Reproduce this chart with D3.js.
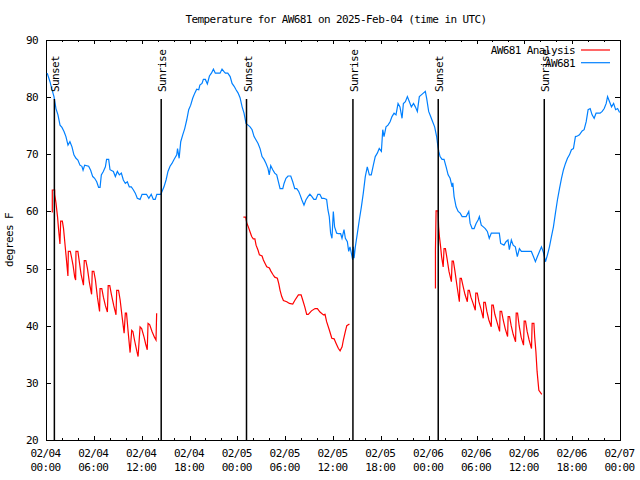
<!DOCTYPE html>
<html><head><meta charset="utf-8">
<script src="https://cdn.jsdelivr.net/npm/d3@7"></script>
<style>
body{margin:0;background:#fff}
text{font-family:"DejaVu Sans Mono","Liberation Mono",monospace;font-size:11px;letter-spacing:-0.6px;fill:#000}
</style>
</head><body>
<svg id="chart" width="640" height="480"></svg>
<script>
// ---------- data ----------
const titleText = "Temperature for AW681 on 2025-Feb-04 (time in UTC)";
const yAxisLabel = "degrees F";
const seriesNames = ["AW681 Analysis", "AW681"];
const seriesColors = ["#ff0000", "#0080ff"];
const yTicks = [20, 30, 40, 50, 60, 70, 80, 90];
const startTime = "2025-02-04T00:00:00Z";
const endTime = "2025-02-07T00:00:00Z";

// Sun events (hours after 02/04 00:00 UTC)
const sunEventNames = ["Sunset", "Sunrise", "Sunset", "Sunrise", "Sunset", "Sunrise"];
const sunEventHours = [1.05, 14.45, 25.15, 38.5, 49.2, 62.5];

// Observed AW681 (hours after start, deg F)
const obsHours = [0.15,0.5,0.75,1.0,1.25,1.5,1.76,2.0,2.26,2.5,2.76,3.0,3.26,3.5,3.76,4.0,4.26,4.5,4.65,4.85,5.35,5.6,5.86,6.1,6.36,6.6,6.78,6.94,7.19,7.45,7.6,7.86,8.03,8.45,8.7,8.95,9.2,9.45,9.7,9.95,10.2,10.45,10.7,10.95,11.2,11.45,11.8,12.05,12.6,12.9,13.2,13.46,13.7,13.9,14.4,14.55,14.8,15.06,15.3,15.56,15.8,16.06,16.4,16.5,16.7,16.9,17.15,17.4,17.65,17.9,18.15,18.4,18.66,18.9,19.16,19.3,19.57,19.74,19.99,20.24,20.5,20.75,21.0,21.24,21.83,22.08,22.3,22.5,22.8,23.1,23.34,23.6,23.84,24.1,24.34,
24.6,24.84,25.09,25.35,25.6,25.85,26.1,26.35,26.6,26.85,27.1,27.35,27.6,27.85,28.0,28.19,28.44,28.69,28.94,29.2,29.36,29.7,29.86,30.1,30.36,30.7,30.95,31.2,31.45,31.7,31.87,32.1,32.36,32.6,32.86,33.1,33.36,33.6,33.85,34.1,34.35,34.6,34.85,35.2,35.36,35.53,35.7,35.87,36.04,36.2,36.46,36.7,36.96,37.13,37.38,37.55,37.8,37.97,38.13,38.3,38.47,38.56,38.64,38.8,39.06,39.3,39.56,39.8,40.05,40.3,40.56,40.8,41.06,41.3,41.56,41.8,42.07,42.24,42.4,42.65,42.9,43.16,43.4,43.66,43.9,44.16,44.4,44.66,44.83,45.08,45.33,45.58,45.83,46.1,46.33,46.58,46.83,47.08,47.33,47.58,47.75,48.0,48.25,48.5,48.75,49.0,49.17,49.27,49.43,
49.68,49.93,50.19,50.44,50.69,50.94,51.03,51.19,51.44,51.7,51.95,52.2,52.7,53.03,53.2,53.45,53.7,53.95,54.2,54.36,54.6,54.86,55.1,55.36,55.6,55.86,56.19,56.86,57.03,57.45,57.7,57.95,58.12,58.37,58.6,58.87,59.12,59.38,59.63,60.13,60.88,61.14,61.39,61.64,61.9,62.15,62.4,62.65,62.9,63.15,63.4,63.65,63.9,64.15,64.41,64.66,64.91,65.16,65.41,65.66,65.91,66.16,66.41,66.66,66.91,67.25,67.5,67.76,68.0,68.26,68.5,68.76,69.0,69.5,69.77,70.02,70.27,70.44,70.69,70.94,71.2,71.45,71.7,71.95];
const obsTemps = [84.2,82.7,81.3,80.1,78.0,76.9,75.1,74.7,74.0,73.1,71.6,72.2,71.3,69.9,69.3,69.0,68.1,67.9,67.2,68.1,67.9,67.2,66.1,65.8,65.2,64.2,64.2,66.4,67.0,67.8,69.1,69.1,67.3,67.0,66.1,67.0,66.4,66.7,65.5,64.9,65.2,64.3,64.3,63.8,63.2,62.3,62.1,63.0,63.0,62.3,63.0,62.1,62.1,63.0,63.0,63.5,64.3,65.5,67.0,67.9,68.4,69.1,69.9,71.0,69.3,72.2,73.4,74.5,76.0,77.8,78.6,79.8,80.7,81.4,81.3,82.1,82.4,83.1,83.1,82.3,83.7,84.2,84.9,84.2,84.2,84.9,84.5,84.2,84.2,83.6,82.4,81.9,81.3,80.7,79.9,
78.3,77.2,75.4,75.1,74.8,74.3,73.1,72.5,71.9,71.0,69.6,69.1,68.4,67.5,66.4,68.0,67.3,66.7,66.4,64.9,64.0,64.0,64.9,65.8,66.2,66.2,65.2,64.0,64.0,63.5,62.9,62.0,61.1,62.0,62.6,63.0,62.6,62.1,62.1,63.0,63.0,62.3,62.3,62.1,60.3,59.1,56.2,55.3,60.0,57.3,56.2,56.1,56.1,55.3,56.8,55.3,54.7,53.0,53.8,52.7,51.5,53.8,51.8,53.8,56.2,58.5,60.8,63.2,66.1,67.8,66.4,66.4,68.1,69.6,70.2,71.0,70.5,74.3,73.1,74.8,75.1,75.7,76.6,77.2,76.9,78.9,78.3,76.3,78.9,79.2,80.1,79.2,78.3,78.9,78.3,77.5,80.1,80.4,80.7,81.0,79.8,77.5,76.6,75.7,74.8,73.1,71.3,70.5,69.6,
69.1,69.1,67.8,66.4,65.8,64.3,65.0,62.6,60.8,60.0,59.7,59.1,59.1,60.0,57.9,57.0,57.0,57.9,58.5,59.1,57.6,57.3,57.0,56.5,55.3,56.2,56.2,56.2,54.4,54.1,54.7,55.0,53.3,55.0,54.1,53.8,52.1,53.5,53.0,53.0,53.0,52.1,51.2,52.1,53.0,53.8,52.8,51.2,52.4,53.8,55.6,57.3,59.7,62.0,64.0,65.8,67.3,68.4,69.3,69.9,70.8,71.0,73.1,73.2,73.4,74.1,74.3,75.7,77.8,78.0,76.9,76.3,77.2,77.2,77.5,78.0,78.9,80.1,79.2,78.3,78.9,77.8,78.0,77.3];

// Analysis (three night segments, null separates segments)
const anaHours = [0.79,0.79,1.09,1.1,1.25,1.45,1.6,1.75,1.84,2.05,2.2,2.4,2.6,2.75,2.8,3.05,3.2,3.4,3.6,3.72,3.76,4.0,4.2,4.4,4.7,4.8,5.0,5.2,5.45,5.72,5.8,6.0,6.2,6.45,6.72,6.78,7.0,7.2,7.45,7.7,7.8,8.0,8.2,8.5,8.78,8.87,9.1,9.3,9.55,9.8,9.95,10.1,10.3,10.55,10.75,10.9,11.1,11.4,11.55,11.8,12.0,12.3,12.5,12.7,12.8,13.0,13.3,13.6,13.8,13.88,
null,
24.76,25.05,25.18,25.38,25.6,25.8,26.0,26.2,26.35,26.6,26.77,27.1,27.27,27.48,27.69,28.02,28.19,28.44,28.69,29.02,29.19,29.36,29.57,29.78,30.2,30.53,30.95,31.24,31.66,32.0,32.2,32.46,32.7,32.9,33.3,33.75,34.04,34.37,34.8,35.0,35.2,35.55,35.85,36.14,36.39,36.68,36.89,37.14,37.3,37.55,37.73,38.06,
null,
48.85,48.85,48.93,49.18,49.25,49.35,49.5,49.62,49.82,49.93,50.1,50.3,50.55,50.85,50.94,51.1,51.3,51.55,51.85,51.94,52.1,52.3,52.55,52.85,52.95,53.1,53.3,53.55,53.85,53.91,54.1,54.3,54.55,54.85,54.91,55.1,55.3,55.55,55.85,55.92,56.1,56.3,56.6,56.9,56.96,57.15,57.35,57.6,57.9,57.97,58.15,58.35,58.6,58.9,58.98,59.15,59.35,59.6,59.9,59.98,60.15,60.35,60.6,60.9,60.98,61.2,61.3,61.45,61.6,61.82,62.19];
const anaTemps = [59.8,63.75,63.75,62.9,61.5,59.0,56.5,54.3,58.3,58.3,57.0,54.0,51.0,48.7,53.0,53.0,52.0,50.5,48.5,48.0,53.0,53.0,51.0,49.0,47.1,51.4,51.4,50.0,47.5,45.5,49.5,49.5,48.0,45.0,42.5,46.5,46.5,45.0,43.5,42.4,47.0,47.0,45.5,43.5,41.9,46.2,46.2,44.5,41.5,38.7,42.2,42.2,39.0,35.3,39.2,39.0,37.5,35.5,34.6,39.8,39.5,38.0,36.8,35.8,40.4,40.2,39.0,38.0,37.5,42.2,
null,
59.0,59.0,58.0,57.3,56.4,55.6,55.2,55.2,54.1,53.2,52.4,52.2,51.5,50.9,50.3,50.1,49.6,49.0,48.5,48.3,47.4,46.2,45.1,44.4,44.2,43.9,43.8,44.5,45.4,45.4,44.5,43.3,42.0,42.0,42.6,43.0,43.0,42.4,41.9,42.0,40.7,39.2,37.8,37.7,36.9,36.0,35.6,36.3,37.5,39.0,40.0,40.3,
null,
46.5,53.2,60.1,60.1,57.3,55.6,53.8,52.1,50.3,53.5,53.5,51.8,49.5,47.7,51.3,51.3,49.5,47.0,44.2,48.3,48.3,47.0,45.5,44.2,46.2,46.2,45.0,44.0,42.7,45.7,45.7,44.2,43.0,41.3,44.1,44.1,42.5,41.0,39.8,43.6,43.6,42.0,40.5,39.0,42.5,42.5,41.0,39.5,38.1,41.6,41.6,40.0,38.5,37.2,42.2,42.2,40.0,38.0,36.6,40.8,40.8,39.0,37.5,36.0,40.4,40.4,38.0,35.5,32.0,28.7,28.0];

// ---------- chart ----------
const svg = d3.select("#chart");
const L = 46, R = 620, T = 40, B = 440;
const t0 = new Date(startTime), t1 = new Date(endTime);
const hToDate = h => new Date(t0.getTime() + h * 3600e3);

const x = d3.scaleUtc().domain([t0, t1]).range([L, R]);
const y = d3.scaleLinear().domain([20, 90]).range([B, T]);

const majorTicks = d3.utcHour.every(6).range(t0, new Date(t1.getTime() + 1));
const minorTicks = d3.utcHour.every(2).range(t0, new Date(t1.getTime() + 1));

const FONT = '"DejaVu Sans Mono","Liberation Mono",monospace';
function cleanAxis(g){ g.select(".domain").remove(); g.selectAll("line").attr("stroke","#000").attr("shape-rendering","crispEdges"); }
function styleText(sel){ sel.attr("fill","#000").style("font-family",FONT).style("font-size","11px").style("letter-spacing","-0.6px"); }

// minor x ticks (bottom + top)
svg.append("g").attr("transform",`translate(0,${B})`)
  .call(d3.axisBottom(x).tickValues(minorTicks).tickSize(-2).tickFormat("")).call(cleanAxis);
svg.append("g").attr("transform",`translate(0,${T})`)
  .call(d3.axisTop(x).tickValues(minorTicks).tickSize(-2).tickFormat("")).call(cleanAxis);
// major x ticks
const xb = svg.append("g").attr("transform",`translate(0,${B})`)
  .call(d3.axisBottom(x).tickValues(majorTicks).tickSize(-4).tickFormat("")).call(cleanAxis);
svg.append("g").attr("transform",`translate(0,${T})`)
  .call(d3.axisTop(x).tickValues(majorTicks).tickSize(-4).tickFormat("")).call(cleanAxis);
const fmtD = d3.utcFormat("%m/%d"), fmtH = d3.utcFormat("%H:%M");
xb.selectAll(".tick").each(function(d){
  const t = d3.select(this).append("text").attr("text-anchor","middle").call(styleText);
  t.append("tspan").attr("x",-1).attr("y",17).text(fmtD(d));
  t.append("tspan").attr("x",-1).attr("y",30.5).text(fmtH(d));
});

// y ticks
svg.append("g").attr("transform",`translate(${L},0)`)
  .call(d3.axisLeft(y).tickValues(yTicks).tickSize(-5).tickPadding(8).tickFormat(d3.format("d")))
  .call(cleanAxis)
  .call(g => g.selectAll("text").call(styleText));
svg.append("g").attr("transform",`translate(${R},0)`)
  .call(d3.axisRight(y).tickValues(yTicks).tickSize(-5).tickFormat("")).call(cleanAxis);

// border
svg.append("rect").attr("x",L+0.5).attr("y",T+0.5).attr("width",R-L).attr("height",B-T)
  .attr("fill","none").attr("stroke","#000").attr("stroke-width",1).attr("shape-rendering","crispEdges");

// title & axis label
svg.append("text").attr("x",336).attr("y",23).attr("text-anchor","middle").text(titleText);
svg.append("text").attr("transform","translate(13,240) rotate(-90)").attr("text-anchor","middle").text(yAxisLabel);

// series
const obs = obsHours.map((h,i)=>({t:hToDate(h), v:obsTemps[i]}));
const ana = anaHours.map((h,i)=>({t: h==null?null:hToDate(h), v:anaTemps[i]}));
const line = d3.line().defined(d => d.t != null && d.v != null).x(d => x(d.t)).y(d => y(d.v));

svg.append("path").datum(ana).attr("d",line).attr("fill","none").attr("stroke",seriesColors[0]).attr("stroke-width",1.2);
svg.append("path").datum(obs).attr("d",line).attr("fill","none").attr("stroke",seriesColors[1]).attr("stroke-width",1.2);

// sun events
sunEventHours.forEach((h,i)=>{
  const xx = x(hToDate(h));
  svg.append("line").attr("x1",xx).attr("x2",xx).attr("y1",99).attr("y2",B)
    .attr("stroke","#000").attr("stroke-width",1.5);
  svg.append("text").attr("transform",`translate(${xx+5},92) rotate(-90)`).attr("text-anchor","start").text(sunEventNames[i]);
});

// legend
seriesNames.forEach((n,i)=>{
  const yy = 50 + i*12.7;
  svg.append("text").attr("x",575).attr("y",yy+4).attr("text-anchor","end").text(n);
  svg.append("line").attr("x1",581).attr("x2",610).attr("y1",yy).attr("y2",yy)
    .attr("stroke",seriesColors[i]).attr("stroke-width",1.2);
});
</script>
</body></html>
